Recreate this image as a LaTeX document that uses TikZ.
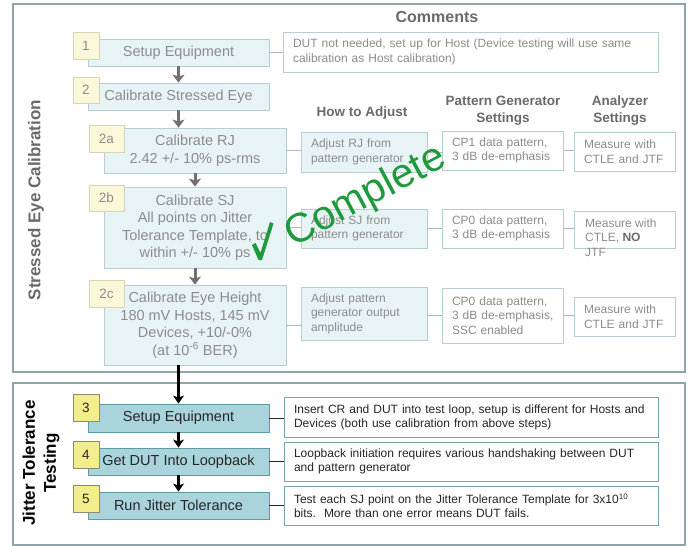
\documentclass[tikz,border=0pt]{standalone}
\usepackage{fontspec}
\setmainfont{Liberation Sans}
\usetikzlibrary{arrows.meta}
\definecolor{frameC}{HTML}{8FA5A7}
\definecolor{upFill}{HTML}{E8F3F5}
\definecolor{upBorder}{HTML}{B5CFD4}
\definecolor{upNumFill}{HTML}{FBF8DA}
\definecolor{upNumBorder}{HTML}{D5D3B8}
\definecolor{upText}{HTML}{8C8C8C}
\definecolor{headText}{HTML}{6A6A6A}
\definecolor{upArrow}{HTML}{707070}
\definecolor{upLine}{HTML}{A8BCC0}
\definecolor{loFill}{HTML}{A9D4DC}
\definecolor{loBorder}{HTML}{5E9AA6}
\definecolor{loNumFill}{HTML}{F3EE8C}
\definecolor{loNumBorder}{HTML}{8C8C70}
\definecolor{loComBorder}{HTML}{7AA2A9}
\definecolor{loText}{HTML}{262626}
\definecolor{okGreen}{HTML}{1E9A3C}
\newcommand\mkbox[7]{%
  \pgfmathsetmacro\bw{#5-#3}\pgfmathsetmacro\bh{#6-#4}%
  \pgfmathsetmacro\bcx{(#3+#5)/2}\pgfmathsetmacro\bcy{(#4+#6)/2}%
  \node[#2, minimum width=\bw pt, minimum height=\bh pt] (#1) at (\bcx,\bcy) {#7};}
\newcommand\mkcbox[7]{%
  \pgfmathsetmacro\bw{#5-#3}\pgfmathsetmacro\bh{#6-#4}%
  \pgfmathsetmacro\bcx{(#3+#5)/2}\pgfmathsetmacro\bcy{(#4+#6)/2}%
  \pgfmathsetmacro\tw{#5-#3-20}%
  \node[#2, minimum width=\bw pt, minimum height=\bh pt, text width=\tw pt, inner xsep=10pt, inner ysep=0pt, align=left] (#1) at (\bcx,\bcy) {#7};}
\begin{document}
\begin{tikzpicture}[x=1pt,y=-1pt,
  frame/.style={draw=frameC, line width=2.5pt, fill=white, inner sep=0pt},
  upmain/.style={draw=upBorder, fill=upFill, line width=0.8pt, text=upText, align=center, inner sep=0pt, font=\fontsize{14.5}{17.5}\selectfont},
  upnum/.style={draw=upNumBorder, fill=upNumFill, line width=0.8pt, text=upText, inner sep=0pt, font=\fontsize{13.5}{15}\selectfont},
  upcom/.style={draw=upBorder, fill=white, line width=0.8pt, text=upText, font=\fontsize{12}{14.5}\selectfont},
  uphow/.style={upcom, fill=upFill},
  head/.style={text=headText, font=\bfseries\fontsize{13.5}{17}\selectfont, align=center, inner sep=0pt},
  lomain/.style={draw=loBorder, fill=loFill, line width=0.9pt, text=loText, align=center, inner sep=0pt, font=\fontsize{14.5}{17.5}\selectfont},
  lonum/.style={draw=loNumBorder, fill=loNumFill, line width=0.8pt, text=loText, inner sep=0pt, font=\fontsize{13.5}{15}\selectfont},
  locom/.style={draw=loComBorder, fill=white, line width=0.9pt, text=loText, font=\fontsize{12}{13.8}\selectfont},
  uplink/.style={draw=upLine, line width=1pt},
  lolink/.style={draw=loText, line width=1pt},
  uparrow/.style={draw=upArrow, line width=3pt, -{Stealth[length=8pt,width=12pt,inset=2pt]}},
  loarrow/.style={draw=black, line width=2.2pt, -{Stealth[length=8pt,width=11pt,inset=2pt]}},
  side/.style={rotate=90, font=\bfseries\fontsize{17}{21}\selectfont, align=center, inner sep=0pt}
]
\path[use as bounding box] (0,0) rectangle (688,546);
% frames
\mkbox{ftop}{frame}{13}{4}{685}{372}{}
\mkbox{fbot}{frame}{13}{383}{685}{545}{}
% side labels
\node[side, text=headText] (sideA) at (36,200) {Stressed Eye Calibration};
\node[side, text=black] (sideB) at (41,463) {Jitter Tolerance\\Testing};
% headers
\node[head, font=\bfseries\fontsize{16}{18}\selectfont] (hcom) at (437,17) {Comments};
\node[head] (hhow) at (362,113) {How to Adjust};
\node[head] (hpg) at (503,111) {Pattern Generator\\Settings};
\node[head] (han) at (620,111) {Analyzer\\Settings};
% upper main boxes
\mkbox{s1}{upmain}{88}{39}{269}{66}{Setup Equipment}
\mkbox{s2}{upmain}{88}{83}{269}{110}{Calibrate Stressed Eye}
\mkbox{s2a}{upmain}{104}{128}{286}{173}{Calibrate RJ\\2.42 +/- 10\% ps-rms}
\mkbox{s2b}{upmain}{104}{187}{286}{268}{Calibrate SJ\\All points on Jitter\\Tolerance Template, to\\within +/- 10\% ps}
\mkbox{s2c}{upmain}{104}{285}{286}{365}{Calibrate Eye Height\\180 mV Hosts, 145 mV\\Devices, +10/-0\%\\(at 10\textsuperscript{-6} BER)}
% upper numbers
\mkbox{n1}{upnum}{73}{32}{99}{59}{1}
\mkbox{n2}{upnum}{73}{77}{99}{103}{2}
\mkbox{n2a}{upnum}{89}{125}{124}{152}{2a}
\mkbox{n2b}{upnum}{89}{185}{124}{211}{2b}
\mkbox{n2c}{upnum}{89}{280}{124}{307}{2c}
% upper comments
\mkcbox{c1}{upcom, font=\fontsize{12}{15}\selectfont}{283}{32}{658}{72}{DUT not needed, set up for Host (Device testing will use same calibration as Host calibration)}
\mkcbox{h2a}{uphow}{301}{132}{427}{172}{Adjust RJ from\\pattern generator}
\mkcbox{h2b}{uphow}{301}{209}{427}{248}{Adjust SJ from\\pattern generator}
\mkcbox{h2c}{uphow}{301}{287}{427}{340}{Adjust pattern\\generator output\\amplitude}
\mkcbox{p2a}{upcom}{442}{131}{563}{170}{CP1 data pattern,\\\mbox{3 dB de-emphasis}}
\mkcbox{p2b}{upcom}{442}{209}{563}{248}{CP0 data pattern,\\\mbox{3 dB de-emphasis}}
\mkcbox{p2c}{upcom}{442}{288}{563}{343}{CP0 data pattern,\\\mbox{3 dB de-emphasis,}\\SSC enabled}
\mkcbox{a2a}{upcom}{574}{132}{675}{171}{Measure with\\CTLE and JTF}
\mkbox{a2b}{upcom}{574}{211}{675}{248}{}
\node[text=upText, font=\fontsize{12}{14.5}\selectfont, align=left, inner sep=0pt, anchor=base west] (a2bt) at (585,256) {Measure with\\CTLE, \textbf{\color{headText}NO}\\JTF};
\mkcbox{a2c}{upcom}{574}{297}{675}{336}{Measure with\\CTLE and JTF}
% upper connectors
\draw[uplink] (s1.east) -- (s1.east -| c1.west);
\draw[uplink] (s2a.east) -- (s2a.east -| h2a.west);
\draw[uplink] (h2a.east) -- (h2a.east -| p2a.west);
\draw[uplink] (p2a.east) -- (p2a.east -| a2a.west);
\draw[uplink] (s2b.east) -- (s2b.east -| h2b.west);
\draw[uplink] (h2b.east) -- (h2b.east -| p2b.west);
\draw[uplink] (p2b.east) -- (p2b.east -| a2b.west);
\draw[uplink] (s2c.east) -- (s2c.east -| h2c.west);
\draw[uplink] (p2c.west) -- (p2c.west -| h2c.east);
\draw[uplink] (p2c.east) -- (p2c.east -| a2c.west);
% upper arrows
\draw[uparrow] (s1.south) -- (s2.north);
\draw[uparrow] (s2.south) -- (s2.south |- s2a.north);
\draw[uparrow] (s2a.south) -- (s2b.north);
\draw[uparrow] (s2b.south) -- (s2c.north);
% lower
\mkbox{s3}{lomain}{88}{404}{269}{432}{Setup Equipment}
\mkbox{s4}{lomain}{88}{448}{269}{475}{Get DUT Into Loopback}
\mkbox{s5}{lomain}{88}{492}{269}{519}{Run Jitter Tolerance}
\mkbox{n3}{lonum}{73}{394}{99}{421}{3}
\mkbox{n4}{lonum}{73}{441}{99}{468}{4}
\mkbox{n5}{lonum}{73}{485}{99}{512}{5}
\mkcbox{c3}{locom}{284}{397}{658}{437}{Insert CR and DUT into test loop, setup is different for Hosts and Devices (both use calibration from above steps)}
\mkcbox{c4}{locom}{284}{442}{658}{481}{Loopback initiation requires various handshaking between DUT and pattern generator}
\mkcbox{c5}{locom}{284}{486}{658}{525}{Test each SJ point on the Jitter Tolerance Template for 3x10\textsuperscript{10} bits.\ \ More than one error means DUT fails.}
\draw[lolink] (s3.east) -- (s3.east -| c3.west);
\draw[lolink] (s4.east) -- (s4.east -| c4.west);
\draw[lolink] (s5.east) -- (s5.east -| c5.west);
\draw[loarrow] (s2c.south -| s3.north) -- (s3.north);
\draw[loarrow] (s3.south) -- (s4.north);
\draw[loarrow] (s4.south) -- (s5.north);
% Complete overlay
\node[text=okGreen, rotate=28, font=\fontsize{41}{41}\selectfont, inner sep=0pt] (done) at (366,197) {Complete};
\fill[okGreen] (252,245) -- (255.5,243) -- (260.5,253) -- (270,222) -- (273.5,223.5) -- (262,260) -- (258.5,260) -- cycle;
\end{tikzpicture}
\end{document}
